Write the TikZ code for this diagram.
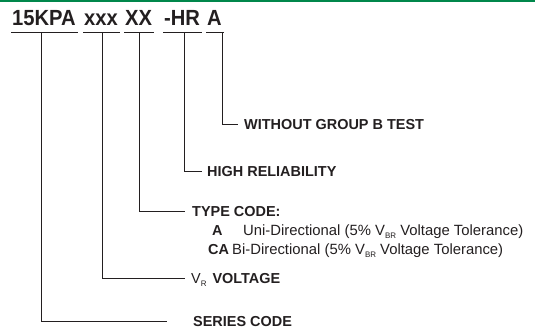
\documentclass[tikz,border=0pt]{standalone}
\usepackage{fontspec}
\setmainfont{Liberation Sans}
\newfontfamily\titlefont[FakeStretch=0.92]{Liberation Sans}
\usetikzlibrary{positioning}
\definecolor{barGreen}{RGB}{0,135,75}
\definecolor{ink}{RGB}{35,31,32}
\newcommand{\lowidx}[1]{\raisebox{-3bp}{\fontsize{8}{8}\selectfont #1}}
\tikzset{
    code/.style={
           anchor=base west,
           inner sep=0pt,
           text=ink,
           font=\titlefont\fontsize{22}{26}\selectfont\bfseries,
           },
    tag/.style={
           anchor=west,
           inner sep=0pt,
           text depth=0pt,
           text=ink,
           font=\fontsize{14.5}{17}\selectfont\bfseries,
           },
    desc/.style={
           anchor=west,
           inner sep=0pt,
           text depth=0pt,
           text=ink,
           font=\fontsize{14.9}{17}\selectfont,
           },
    lead/.style={
           draw=ink,
           line width=0.9bp,
           },
}
\begin{document}
\begin{tikzpicture}[x=1bp, y=-1bp]
	\useasboundingbox (0,0) rectangle (535,329);
	\fill[barGreen] (0,0) rectangle (535,2);

	% part number
	\node[code] (p1) at (12,25) {15KPA};
	\node[code] (p2) at (84,25) {xxx};
	\node[code] (p3) at (125,25) {XX};
	\node[code] (p4) at (164,25) {-HR};
	\node[code] (p5) at (207,25) {A};
	\foreach \p in {p1,p2,p3,p4,p5}
		\draw[lead] ([xshift=-1bp, yshift=-7bp]\p.base west) -- ([xshift=2bp, yshift=-7bp]\p.base east);

	\coordinate (t1) at (41,32);
	\coordinate (t2) at (102,32);
	\coordinate (t3) at (139,32);
	\coordinate (t4) at (184,32);
	\coordinate (t5) at (222,32);

	% meanings
	\node[tag] (nt) at (244,124) {WITHOUT GROUP B TEST};
	\node[tag] (hr) at (207,171) {HIGH RELIABILITY};
	\node[tag] (tc) at (192,211) {TYPE CODE:};
	\node[tag] (ka) at (212,230.5) {A};
	\node[desc] (da) at (243,230.5) {Uni-Directional (5\% V\lowidx{BR} Voltage Tolerance)};
	\node[tag] (kc) at (208,249.5) {CA};
	\node[desc] (dc) at (232,249.5) {Bi-Directional (5\% V\lowidx{BR} Voltage Tolerance)};
	\node[tag] (vr) at (191,278.5) {\mdseries V\lowidx{R}\hspace{6bp}\bfseries VOLTAGE};
	\node[tag] (sc) at (193,321) {SERIES CODE};

	\draw[lead] (t5) |- ([xshift=-6bp]nt.west);
	\draw[lead] (t4) |- ([xshift=-5bp]hr.west);
	\draw[lead] (t3) |- ([xshift=-7bp]tc.west);
	\draw[lead] (t2) |- ([xshift=-6bp]vr.west);
	\draw[lead] (t1) |- ([xshift=-26bp]sc.west);
\end{tikzpicture}
\end{document}
